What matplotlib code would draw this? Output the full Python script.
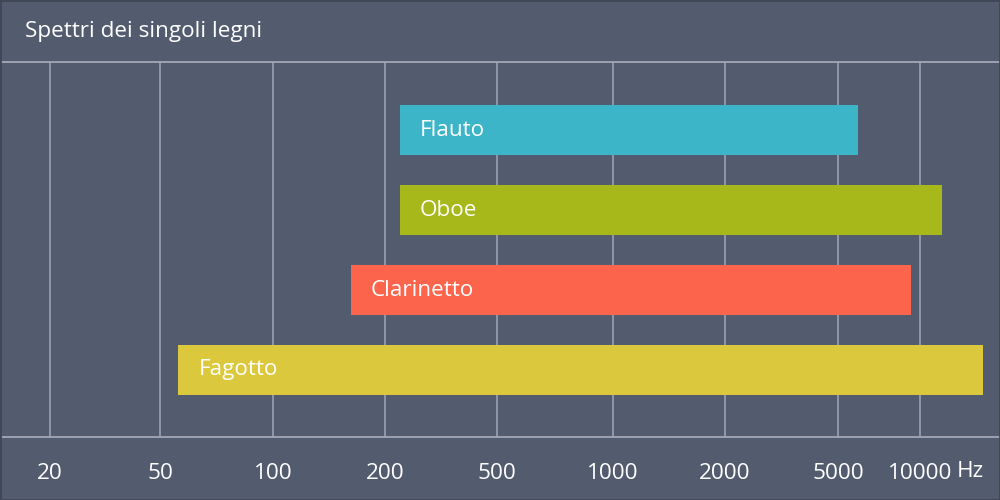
import numpy as np
import matplotlib
matplotlib.use("Agg")
import matplotlib.pyplot as plt

# ---- data ----
instruments = ["Flauto", "Oboe", "Clarinetto", "Fagotto"]
low_hz = [226, 226, 162, 56]
high_hz = [5900, 12000, 9300, 17000]
colors = ["#3db5c9", "#a7b81a", "#fc654b", "#dbc83d"]
tick_hz = [20, 50, 100, 200, 500, 1000, 2000, 5000, 10000]
tick_labels = ["20", "50", "100", "200", "500", "1000", "2000", "5000", "10000"]
title = "Spettri dei singoli legni"
unit = "Hz"

# ---- layout of the (non-uniform) frequency axis, in figure pixels ----
tick_px = np.array([50, 160, 273, 385, 497, 613, 725, 838, 920], float)
lt = np.log10(np.array(tick_hz, float))
s0 = (tick_px[1] - tick_px[0]) / (lt[1] - lt[0])
s1 = (tick_px[-1] - tick_px[-2]) / (lt[-1] - lt[-2])


def fwd(f):
    f = np.asarray(f, float)
    l = np.log10(np.clip(f, 1e-6, None))
    out = np.interp(l, lt, tick_px)
    out = np.where(l < lt[0], tick_px[0] + (l - lt[0]) * s0, out)
    out = np.where(l > lt[-1], tick_px[-1] + (l - lt[-1]) * s1, out)
    return out


def inv(p):
    p = np.asarray(p, float)
    l = np.interp(p, tick_px, lt)
    l = np.where(p < tick_px[0], lt[0] + (p - tick_px[0]) / s0, l)
    l = np.where(p > tick_px[-1], lt[-1] + (p - tick_px[-1]) / s1, l)
    return 10 ** l


BG = "#535b6e"
GRID = "#a3a7b6"
FONT = ["Open Sans", "DejaVu Sans"]
FS = 16.2
plt.rcParams["font.family"] = FONT

fig = plt.figure(figsize=(10, 5), dpi=100, facecolor=BG)
ax = fig.add_axes([0, (500 - 437) / 500, 1, 375 / 500])
ax.set_facecolor(BG)
ax.set_xscale("function", functions=(fwd, inv))
ax.set_xlim(inv(0), inv(1000))
ax.set_ylim(3 + 67 / 80, -68 / 80)

for s in ["left", "right"]:
    ax.spines[s].set_visible(False)
for s in ["top", "bottom"]:
    ax.spines[s].set_color(GRID)
    ax.spines[s].set_linewidth(1.3)

ax.set_xticks(tick_hz)
ax.set_xticklabels(tick_labels)
ax.xaxis.set_minor_locator(matplotlib.ticker.NullLocator())
ax.tick_params(axis="x", length=0, pad=18.5, labelsize=FS, labelcolor="white")
ax.set_yticks([])
ax.grid(axis="x", color=GRID, linewidth=1.1)
ax.set_axisbelow(True)

y = np.arange(len(instruments))
widths = np.array(high_hz) - np.array(low_hz)
ax.barh(y, widths, left=low_hz, height=50 / 80, color=colors, zorder=3)

for yi, name, lo in zip(y, instruments, low_hz):
    ax.annotate(name, xy=(lo, yi), xytext=(14.5, 0), textcoords="offset points",
                ha="left", va="center", color="white", fontsize=FS, zorder=4)

ax.annotate(unit, xy=(tick_hz[-1], 0), xycoords=("data", "axes fraction"),
            xytext=(26.5, -24.5), textcoords="offset points", ha="left", va="center",
            color="white", fontsize=FS, annotation_clip=False)

fig.text(25 / 1000, 1 - 32 / 500, title, ha="left", va="center", color="white",
         fontsize=FS)

fig.patches.append(matplotlib.patches.Rectangle((0, 0), 1, 1, transform=fig.transFigure,
                                                fill=False, edgecolor="#3f4656", linewidth=2))

fig.savefig("out.png", dpi=100, facecolor=BG)
